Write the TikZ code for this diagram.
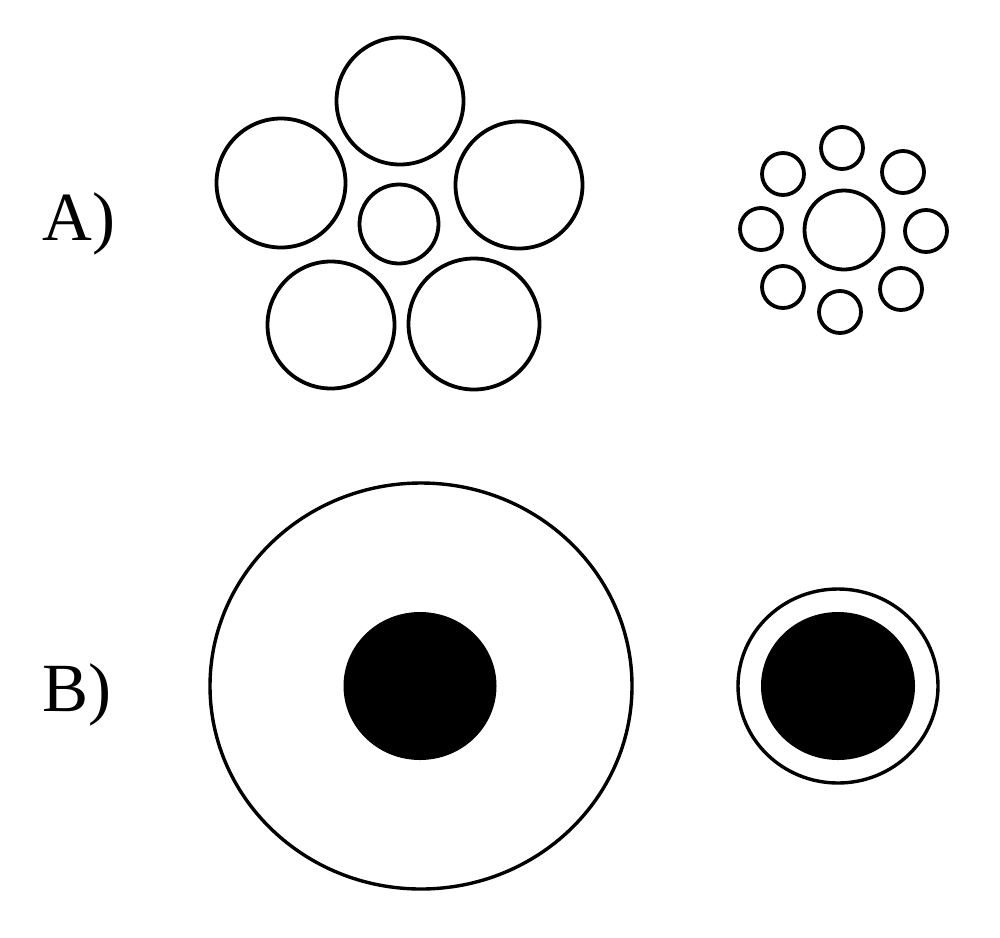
\documentclass[tikz,border=0pt]{standalone}
\usepackage{fontspec}
\setmainfont{Liberation Serif}
\begin{document}
\begin{tikzpicture}[x=1pt,y=-1pt,
  ring/.style={draw=black,line width=3.8pt,fill=none},
  disk/.style={fill=black,draw=none},
  lab/.style={anchor=base west,inner sep=0pt,font=\fontsize{69}{69}\selectfont}]
\useasboundingbox (0,0) rectangle (1000,937);
% labels
\node[lab] (labA) at (42,240) {A)};
\node[lab] (labB) at (42,711) {B)};
% A left group
\draw[ring] (399,224) circle (39.5);
\draw[ring] (400,101) circle (63.5);
\draw[ring] (281,183) circle (64.5);
\draw[ring] (519,185) circle (63.5);
\draw[ring] (331,325) circle (63.5);
\draw[ring] (474,324) circle (65.5);
% A right group
\draw[ring] (844,230) circle (39.5);
\draw[ring] (842,148) circle (21);
\draw[ring] (903,172) circle (21);
\draw[ring] (926,231) circle (21);
\draw[ring] (901,289) circle (21);
\draw[ring] (840,312) circle (21);
\draw[ring] (783,287) circle (21);
\draw[ring] (761,229) circle (21);
\draw[ring] (783,174) circle (21);
% B
\draw[ring,line width=3.4pt] (421,686) ellipse [x radius=211, y radius=203];
\fill[disk] (420,686) ellipse [x radius=76.5, y radius=74];
\draw[ring,line width=3.4pt] (838,686) ellipse [x radius=100, y radius=97];
\fill[disk] (838,686) ellipse [x radius=77, y radius=74];
\end{tikzpicture}
\end{document}
